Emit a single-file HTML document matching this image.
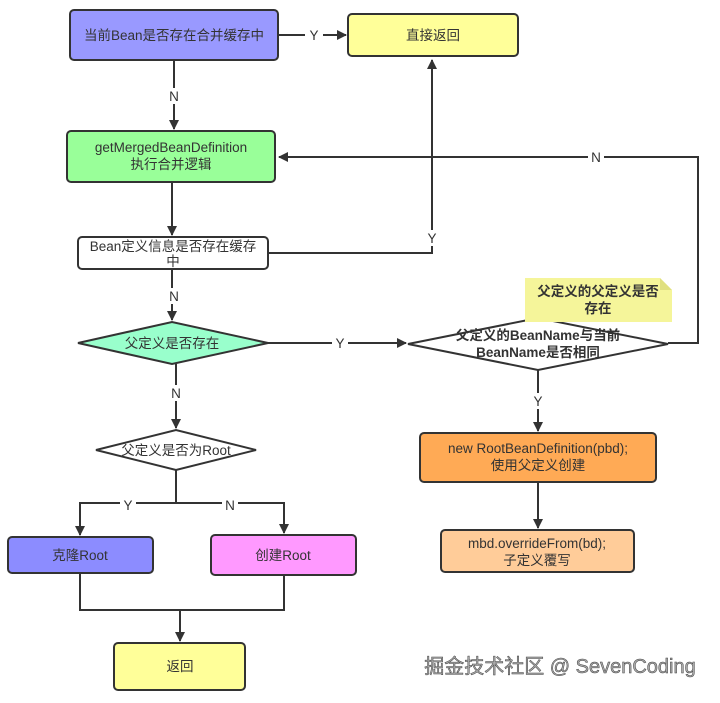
<!DOCTYPE html>
<html><head><meta charset="utf-8"><style>
body{margin:0;background:#fff;}
svg text{font-family:"Liberation Sans","Noto Sans CJK SC",sans-serif;font-size:13.5px;fill:#333;text-anchor:middle;}
</style></head><body>
<svg width="720" height="698" viewBox="0 0 720 698" xmlns="http://www.w3.org/2000/svg">
<defs><marker id="a" markerWidth="10" markerHeight="10" refX="9" refY="5" orient="auto" markerUnits="userSpaceOnUse"><path d="M0,0 L10,5 L0,10 z" fill="#333"/></marker></defs>
<g stroke="#333" stroke-width="2" fill="none">
<path d="M278,35 H346" marker-end="url(#a)"/>
<path d="M174,60 V129" marker-end="url(#a)"/>
<path d="M172,182 V235" marker-end="url(#a)"/>
<path d="M172,269 V320" marker-end="url(#a)"/>
<path d="M268,253 H432 V60" marker-end="url(#a)"/>
<path d="M268,343 H406" marker-end="url(#a)"/>
<path d="M668,343 H698 V157 H279" marker-end="url(#a)"/>
<path d="M176,364 V428" marker-end="url(#a)"/>
<path d="M176,470 V503 H80 V535" marker-end="url(#a)"/>
<path d="M176,503 H284 V533" marker-end="url(#a)"/>
<path d="M80,573 V610 H284 V575"/>
<path d="M180,610 V641" marker-end="url(#a)"/>
<path d="M538,370 V431" marker-end="url(#a)"/>
<path d="M538,482 V528" marker-end="url(#a)"/>
</g>
<g stroke="#333" stroke-width="2">
<rect x="70" y="10" width="208" height="50" rx="4" fill="#9999ff"/>
<rect x="348" y="14" width="170" height="42" rx="4" fill="#ffff99"/>
<rect x="67" y="131" width="208" height="51" rx="4" fill="#99ff99"/>
<rect x="78" y="237" width="190" height="32" rx="4" fill="#fff"/>
<polygon points="78,343 172,322 268,343 172,364" fill="#99ffcc"/>
<polygon points="408,344 538,318 668,344 538,370" fill="#fff"/>
<polygon points="96,450 176,430 256,450 176,470" fill="#fff"/>
<rect x="8" y="537" width="145" height="36" rx="4" fill="#8c8cff"/>
<rect x="211" y="535" width="145" height="40" rx="4" fill="#ff99ff"/>
<rect x="114" y="643" width="131" height="47" rx="4" fill="#ffff99"/>
<rect x="420" y="433" width="236" height="49" rx="4" fill="#ffaa55"/>
<rect x="441" y="530" width="193" height="42" rx="4" fill="#ffcc99"/>
</g>
<polygon points="525,278 660,278 672,290 672,322 525,322" fill="#f5f59a"/>
<polygon points="660,278 672,290 660,290" fill="#e0e080"/>
<g stroke="none">
<rect x="305" y="28" width="18" height="14" fill="#fff"/>
<rect x="166" y="88" width="16" height="16" fill="#fff"/>
<rect x="166" y="288" width="16" height="16" fill="#fff"/>
<rect x="424" y="230" width="16" height="16" fill="#fff"/>
<rect x="588" y="150" width="16" height="14" fill="#fff"/>
<rect x="332" y="336" width="16" height="14" fill="#fff"/>
<rect x="168" y="385" width="16" height="16" fill="#fff"/>
<rect x="120" y="498" width="16" height="14" fill="#fff"/>
<rect x="222" y="498" width="16" height="14" fill="#fff"/>
<rect x="530" y="393" width="16" height="16" fill="#fff"/>
</g>
<text x="314" y="40">Y</text>
<text x="174" y="101">N</text>
<text x="174" y="301">N</text>
<text x="432" y="243">Y</text>
<text x="596" y="162">N</text>
<text x="340" y="348">Y</text>
<text x="176" y="398">N</text>
<text x="128" y="510">Y</text>
<text x="230" y="510">N</text>
<text x="538" y="406">Y</text>
<text x="174" y="40">当前Bean是否存在合并缓存中</text>
<text x="433" y="40">直接返回</text>
<text x="171" y="152">getMergedBeanDefinition</text>
<text x="171" y="169">执行合并逻辑</text>
<text x="173" y="251">Bean定义信息是否存在缓存</text>
<text x="173" y="266">中</text>
<text x="172" y="348">父定义是否存在</text>
<text x="176" y="455">父定义是否为Root</text>
<text x="80" y="560">克隆Root</text>
<text x="283" y="560">创建Root</text>
<text x="180" y="671">返回</text>
<text x="598" y="296" style="font-weight:bold">父定义的父定义是否</text>
<text x="598" y="313" style="font-weight:bold">存在</text>
<text x="538" y="340" style="font-weight:bold">父定义的BeanName与当前</text>
<text x="538" y="357" style="font-weight:bold">BeanName是否相同</text>
<text x="538" y="453">new RootBeanDefinition(pbd);</text>
<text x="538" y="470">使用父定义创建</text>
<text x="537" y="548">mbd.overrideFrom(bd);</text>
<text x="537" y="565">子定义覆写</text>
<text x="560" y="673" style="font-size:20px;fill:#aaa;stroke:#444;stroke-width:0.5">掘金技术社区 @ SevenCoding</text>
</svg>
</body></html>
